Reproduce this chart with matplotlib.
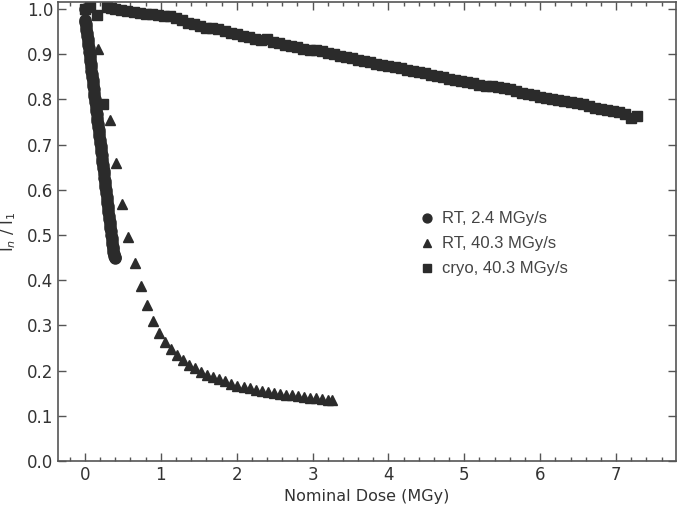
import matplotlib
matplotlib.use("Agg")
import matplotlib.pyplot as plt
from matplotlib.ticker import MultipleLocator

# RT, 2.4 MGy/s (circles)
rt24_dose = [0.000, 0.002, 0.005, 0.010, 0.015, 0.020, 0.025, 0.030, 0.035, 0.040,
             0.045, 0.050, 0.055, 0.060, 0.065, 0.070, 0.075, 0.080, 0.085, 0.090,
             0.095, 0.100, 0.105, 0.110, 0.115, 0.120, 0.125, 0.130, 0.135, 0.140,
             0.145, 0.150, 0.155, 0.160, 0.165, 0.170, 0.175, 0.180, 0.185, 0.190,
             0.195, 0.200, 0.205, 0.210, 0.215, 0.220, 0.225, 0.230, 0.235, 0.240,
             0.245, 0.250, 0.255, 0.260, 0.265, 0.270, 0.275, 0.280, 0.285, 0.290,
             0.295, 0.300, 0.305, 0.310, 0.315, 0.320, 0.325, 0.330, 0.335, 0.340,
             0.345, 0.350, 0.355, 0.360, 0.365, 0.370, 0.375, 0.380, 0.385, 0.390,
             0.395]
rt24_int = [1.000, 0.976, 0.972, 0.966, 0.960, 0.953, 0.947, 0.940, 0.933, 0.927,
            0.920, 0.913, 0.906, 0.899, 0.892, 0.885, 0.878, 0.871, 0.864, 0.857,
            0.850, 0.843, 0.836, 0.829, 0.822, 0.815, 0.808, 0.801, 0.795, 0.788,
            0.781, 0.774, 0.767, 0.760, 0.753, 0.746, 0.739, 0.732, 0.725, 0.718,
            0.711, 0.704, 0.697, 0.690, 0.683, 0.676, 0.669, 0.662, 0.655, 0.648,
            0.641, 0.634, 0.627, 0.620, 0.613, 0.606, 0.599, 0.592, 0.585, 0.578,
            0.571, 0.564, 0.557, 0.550, 0.543, 0.536, 0.529, 0.522, 0.515, 0.508,
            0.501, 0.494, 0.487, 0.481, 0.474, 0.468, 0.463, 0.458, 0.454, 0.451,
            0.449]

# RT, 40.3 MGy/s (triangles)
rt403_dose = [0.000, 0.176, 0.329, 0.408, 0.487, 0.571, 0.654, 0.733, 0.817, 0.896,
              0.975, 1.054, 1.133, 1.212, 1.291, 1.375, 1.454, 1.533, 1.612, 1.691,
              1.770, 1.850, 1.930, 2.010, 2.090, 2.170, 2.250, 2.330, 2.410, 2.490,
              2.570, 2.650, 2.730, 2.810, 2.890, 2.970, 3.050, 3.130, 3.210, 3.250]
rt403_int = [1.000, 0.911, 0.754, 0.659, 0.569, 0.496, 0.437, 0.388, 0.345, 0.310,
             0.284, 0.264, 0.248, 0.235, 0.223, 0.213, 0.205, 0.198, 0.191, 0.186,
             0.181, 0.176, 0.171, 0.167, 0.164, 0.161, 0.158, 0.155, 0.152, 0.150,
             0.148, 0.146, 0.145, 0.143, 0.142, 0.140, 0.139, 0.137, 0.136, 0.135]

# cryo, 40.3 MGy/s (squares)
cryo_dose = [0.00, 0.07, 0.16, 0.24, 0.29, 0.34, 0.40, 0.48, 0.56, 0.64, 0.72,
             0.80, 0.88, 0.96, 1.04, 1.12, 1.20, 1.28, 1.36, 1.44, 1.52,
             1.60, 1.68, 1.76, 1.84, 1.92, 2.00, 2.08, 2.16, 2.24, 2.32,
             2.40, 2.48, 2.56, 2.64, 2.72, 2.80, 2.88, 2.96, 3.04, 3.12,
             3.20, 3.28, 3.36, 3.44, 3.52, 3.60, 3.68, 3.76, 3.84, 3.92,
             4.00, 4.08, 4.16, 4.24, 4.32, 4.40, 4.48, 4.56, 4.64, 4.72,
             4.80, 4.88, 4.96, 5.04, 5.12, 5.20, 5.28, 5.36, 5.44, 5.52,
             5.60, 5.68, 5.76, 5.84, 5.92, 6.00, 6.08, 6.16, 6.24, 6.32,
             6.40, 6.48, 6.56, 6.64, 6.72, 6.80, 6.88, 6.96, 7.04, 7.12,
             7.20, 7.28]
cryo_int = [1.000, 1.005, 0.987, 0.789, 1.004, 1.002, 1.000, 0.998, 0.996, 0.994, 0.992,
            0.990, 0.988, 0.986, 0.985, 0.984, 0.980, 0.975, 0.970, 0.966, 0.962,
            0.959, 0.957, 0.956, 0.952, 0.947, 0.944, 0.941, 0.938, 0.934, 0.931,
            0.933, 0.927, 0.924, 0.921, 0.918, 0.915, 0.912, 0.910, 0.909, 0.907,
            0.903, 0.900, 0.897, 0.894, 0.891, 0.888, 0.885, 0.882, 0.879, 0.877,
            0.874, 0.871, 0.869, 0.866, 0.863, 0.861, 0.858, 0.855, 0.852, 0.849,
            0.846, 0.843, 0.841, 0.839, 0.837, 0.833, 0.830, 0.829, 0.828, 0.826,
            0.822, 0.818, 0.815, 0.812, 0.809, 0.806, 0.804, 0.801, 0.799, 0.797,
            0.795, 0.792, 0.789, 0.786, 0.782, 0.779, 0.777, 0.775, 0.772, 0.768,
            0.759, 0.764]

labels = ["RT, 2.4 MGy/s", "RT, 40.3 MGy/s", "cryo, 40.3 MGy/s"]
mcolor = "#2b2b2b"
axcolor = "#555555"
txtcolor = "#333333"

fig = plt.figure(figsize=(6.77, 5.08), dpi=100)
ax = fig.add_axes([0.0857, 0.0925, 0.9128, 0.9035])

ax.plot(cryo_dose, cryo_int, linestyle="none", marker="s", markersize=7,
        color=mcolor, label=labels[2], zorder=2)
ax.plot(rt403_dose, rt403_int, linestyle="none", marker="^", markersize=7,
        color=mcolor, label=labels[1], zorder=3)
ax.plot(rt24_dose, rt24_int, linestyle="none", marker="o", markersize=8,
        color=mcolor, label=labels[0], zorder=4)

ax.set_xlim(-0.355, 7.79)
ax.set_ylim(0.0, 1.0155)
ax.xaxis.set_major_locator(MultipleLocator(1))
ax.xaxis.set_minor_locator(MultipleLocator(0.2))
ax.yaxis.set_major_locator(MultipleLocator(0.1))

ax.tick_params(which="both", direction="in", top=True, right=True,
               color=axcolor, labelcolor=txtcolor, labelsize=12)
ax.tick_params(which="major", length=6, width=1)
ax.tick_params(which="minor", length=3, width=1)
for s in ax.spines.values():
    s.set_color(axcolor)
    s.set_linewidth(1.2)

ax.set_xlabel("Nominal Dose (MGy)", fontsize=11.5, color=txtcolor, labelpad=4)
ax.set_ylabel(r"I$_n$ / I$_1$", fontsize=11.5, color=txtcolor, labelpad=6)

handles, labs = ax.get_legend_handles_labels()
order = [2, 1, 0]
leg = ax.legend([handles[i] for i in order], [labs[i] for i in order],
                loc="center left", bbox_to_anchor=(0.557, 0.473), frameon=False,
                prop={"family": "Liberation Sans", "size": 12},
                handletextpad=0.3, labelspacing=0.6, handlelength=1.2,
                markerscale=0.8)
for t in leg.get_texts():
    t.set_color("#444444")

fig.savefig("out.png", dpi=100)
